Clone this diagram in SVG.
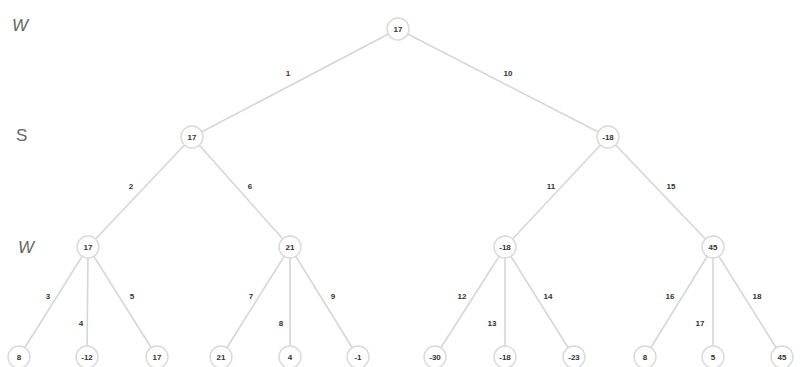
<svg xmlns="http://www.w3.org/2000/svg" width="800" height="367" viewBox="0 0 800 367">
  <style>
    .edge { stroke: #d6d6d6; stroke-width: 1.6; fill: none; }
    .node circle { fill: #ffffff; stroke: #d9d9d9; stroke-width: 1.4; }
    .node text { font-family: "Liberation Sans", Arial, sans-serif; font-size: 8px; font-weight: bold; fill: #333333; text-anchor: middle; dominant-baseline: central; }
    .elabel { font-family: "Liberation Sans", Arial, sans-serif; font-size: 8px; font-weight: bold; fill: #333333; text-anchor: middle; dominant-baseline: central; }
    .player { font-family: "Liberation Sans", Arial, sans-serif; font-size: 17px; fill: #666666; }
  </style>

  <!-- player row markers -->
  <text class="player" x="12" y="31" font-style="italic">W</text>
  <text class="player" x="16" y="141">S</text>
  <text class="player" x="18" y="253" font-style="italic">W</text>

  <g id="connectors">
    <line class="edge" x1="398" y1="29" x2="192" y2="137"/>
    <line class="edge" x1="398" y1="29" x2="608" y2="137"/>
    <line class="edge" x1="192" y1="137" x2="88" y2="247"/>
    <line class="edge" x1="192" y1="137" x2="290" y2="247"/>
    <line class="edge" x1="608" y1="137" x2="505" y2="247"/>
    <line class="edge" x1="608" y1="137" x2="713" y2="247"/>
    <line class="edge" x1="88" y1="247" x2="19" y2="357"/>
    <line class="edge" x1="88" y1="247" x2="87" y2="357"/>
    <line class="edge" x1="88" y1="247" x2="157" y2="357"/>
    <line class="edge" x1="290" y1="247" x2="221" y2="357"/>
    <line class="edge" x1="290" y1="247" x2="290" y2="357"/>
    <line class="edge" x1="290" y1="247" x2="358" y2="357"/>
    <line class="edge" x1="505" y1="247" x2="435" y2="357"/>
    <line class="edge" x1="505" y1="247" x2="505" y2="357"/>
    <line class="edge" x1="505" y1="247" x2="574" y2="357"/>
    <line class="edge" x1="713" y1="247" x2="645" y2="357"/>
    <line class="edge" x1="713" y1="247" x2="713" y2="357"/>
    <line class="edge" x1="713" y1="247" x2="782" y2="357"/>

    <text class="elabel" x="288" y="73">1</text>
    <text class="elabel" x="508" y="73">10</text>
    <text class="elabel" x="131" y="186">2</text>
    <text class="elabel" x="250" y="186">6</text>
    <text class="elabel" x="551" y="186">11</text>
    <text class="elabel" x="671" y="186">15</text>
    <text class="elabel" x="48" y="296">3</text>
    <text class="elabel" x="81" y="323">4</text>
    <text class="elabel" x="132" y="296">5</text>
    <text class="elabel" x="251" y="296">7</text>
    <text class="elabel" x="281" y="323">8</text>
    <text class="elabel" x="333" y="296">9</text>
    <text class="elabel" x="462" y="296">12</text>
    <text class="elabel" x="492" y="323">13</text>
    <text class="elabel" x="548" y="296">14</text>
    <text class="elabel" x="670" y="296">16</text>
    <text class="elabel" x="700" y="323">17</text>
    <text class="elabel" x="757" y="296">18</text>
  </g>

  <g id="n0" class="node"><circle cx="398" cy="29" r="11"/><text x="398" y="29">17</text></g>
  <g id="n1" class="node"><circle cx="192" cy="137" r="11"/><text x="192" y="137">17</text></g>
  <g id="n2" class="node"><circle cx="608" cy="137" r="11"/><text x="608" y="137">-18</text></g>
  <g id="n3" class="node"><circle cx="88" cy="247" r="11"/><text x="88" y="247">17</text></g>
  <g id="n4" class="node"><circle cx="290" cy="247" r="11"/><text x="290" y="247">21</text></g>
  <g id="n5" class="node"><circle cx="505" cy="247" r="11"/><text x="505" y="247">-18</text></g>
  <g id="n6" class="node"><circle cx="713" cy="247" r="11"/><text x="713" y="247">45</text></g>
  <g id="n7" class="node"><circle cx="19" cy="357" r="11"/><text x="19" y="357">8</text></g>
  <g id="n8" class="node"><circle cx="87" cy="357" r="11"/><text x="87" y="357">-12</text></g>
  <g id="n9" class="node"><circle cx="157" cy="357" r="11"/><text x="157" y="357">17</text></g>
  <g id="n10" class="node"><circle cx="221" cy="357" r="11"/><text x="221" y="357">21</text></g>
  <g id="n11" class="node"><circle cx="290" cy="357" r="11"/><text x="290" y="357">4</text></g>
  <g id="n12" class="node"><circle cx="358" cy="357" r="11"/><text x="358" y="357">-1</text></g>
  <g id="n13" class="node"><circle cx="435" cy="357" r="11"/><text x="435" y="357">-30</text></g>
  <g id="n14" class="node"><circle cx="505" cy="357" r="11"/><text x="505" y="357">-18</text></g>
  <g id="n15" class="node"><circle cx="574" cy="357" r="11"/><text x="574" y="357">-23</text></g>
  <g id="n16" class="node"><circle cx="645" cy="357" r="11"/><text x="645" y="357">8</text></g>
  <g id="n17" class="node"><circle cx="713" cy="357" r="11"/><text x="713" y="357">5</text></g>
  <g id="n18" class="node"><circle cx="782" cy="357" r="11"/><text x="782" y="357">45</text></g>
</svg>
